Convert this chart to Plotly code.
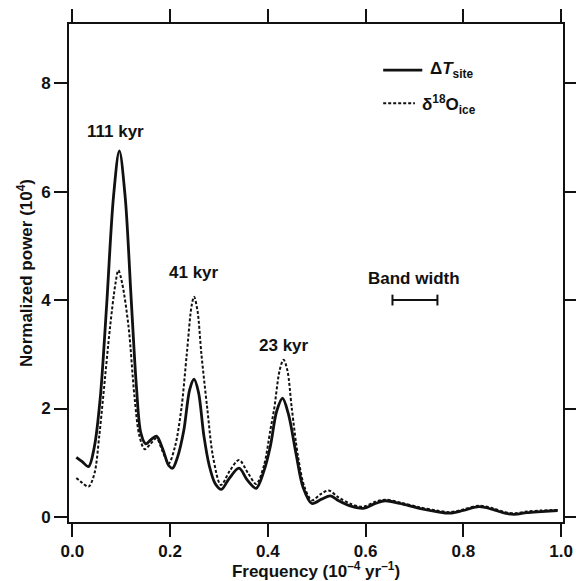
import plotly.graph_objects as go

# Frequency (10^-4 yr^-1) and normalized power (10^4) of the site temperature spectrum
freq_dt = [0.008, 0.020, 0.033, 0.045, 0.057, 0.070, 0.084, 0.096, 0.108, 0.120,
           0.131, 0.140, 0.150, 0.160, 0.172, 0.185, 0.197, 0.205, 0.215, 0.228,
           0.240, 0.249, 0.258, 0.269, 0.280, 0.292, 0.305, 0.320, 0.341, 0.358,
           0.376, 0.392, 0.405, 0.418, 0.430, 0.442, 0.458, 0.472, 0.490, 0.510,
           0.528, 0.545, 0.570, 0.595, 0.620, 0.640, 0.670, 0.710, 0.745, 0.773,
           0.800, 0.832, 0.860, 0.885, 0.904, 0.930, 0.960, 0.993]
power_dt = [1.10, 1.02, 0.93, 1.30, 2.20, 3.90, 5.90, 6.75, 5.90, 4.06,
            2.40, 1.55, 1.35, 1.42, 1.49, 1.25, 0.95, 0.90, 1.10, 1.60,
            2.35, 2.54, 2.30, 1.50, 0.95, 0.62, 0.51, 0.70, 0.90, 0.68,
            0.53, 0.85, 1.30, 1.95, 2.19, 1.90, 1.15, 0.55, 0.25, 0.33,
            0.39, 0.30, 0.20, 0.16, 0.25, 0.30, 0.25, 0.16, 0.10, 0.07,
            0.12, 0.19, 0.14, 0.07, 0.05, 0.08, 0.10, 0.12]

# Spectrum of the ice isotope record
freq_d18o = [0.008, 0.020, 0.033, 0.045, 0.055, 0.063, 0.077, 0.088, 0.094, 0.102,
             0.115, 0.127, 0.137, 0.148, 0.160, 0.172, 0.185, 0.197, 0.210, 0.223,
             0.234, 0.244, 0.249, 0.256, 0.264, 0.276, 0.288, 0.304, 0.322, 0.341,
             0.360, 0.376, 0.392, 0.405, 0.413, 0.424, 0.432, 0.440, 0.449, 0.462,
             0.475, 0.490, 0.508, 0.524, 0.545, 0.570, 0.595, 0.620, 0.640, 0.670,
             0.710, 0.745, 0.773, 0.800, 0.832, 0.860, 0.885, 0.904, 0.930, 0.960,
             0.993]
power_d18o = [0.72, 0.63, 0.56, 0.80, 1.50, 2.22, 3.50, 4.30, 4.55, 4.30,
              3.50, 2.22, 1.50, 1.25, 1.35, 1.45, 1.20, 0.99, 1.30, 2.00,
              3.00, 3.90, 4.06, 3.80, 3.00, 2.00, 1.10, 0.59, 0.85, 1.05,
              0.80, 0.61, 0.95, 1.60, 2.00, 2.70, 2.90, 2.70, 2.00, 1.10,
              0.55, 0.31, 0.42, 0.49, 0.36, 0.24, 0.19, 0.28, 0.32, 0.27,
              0.18, 0.12, 0.09, 0.14, 0.21, 0.16, 0.09, 0.07, 0.10, 0.12,
              0.13]

# Peak period labels
peak_labels = ["111 kyr", "41 kyr", "23 kyr"]
peak_label_freq = [0.088, 0.249, 0.434]
peak_label_power = [7.11, 4.50, 3.17]

# Spectral band width bar
band_start, band_end, band_level = 0.655, 0.747, 4.0

x_ticks = [0.0, 0.2, 0.4, 0.6, 0.8, 1.0]
y_ticks = [0, 2, 4, 6, 8]

FONT = "Liberation Sans, Arial, sans-serif"

fig = go.Figure()
fig.add_trace(go.Scatter(x=freq_d18o, y=power_d18o, mode="lines",
                         line=dict(color="#111", width=2, dash="3px,2px",
                                   shape="spline", smoothing=0.9),
                         showlegend=False))
fig.add_trace(go.Scatter(x=freq_dt, y=power_dt, mode="lines",
                         line=dict(color="#111", width=2.8,
                                   shape="spline", smoothing=0.9),
                         showlegend=False))

for txt, fx, py in zip(peak_labels, peak_label_freq, peak_label_power):
    fig.add_annotation(x=fx, y=py, text=txt, showarrow=False,
                       font=dict(family=FONT, size=17, color="#111", weight="bold"))

fig.add_annotation(x=0.700, y=4.39, text="Band width", showarrow=False,
                   font=dict(family=FONT, size=17, color="#111", weight="bold"))

# Band width bar with end caps
bar = dict(color="#111", width=2)
fig.add_shape(type="line", x0=band_start, x1=band_end, y0=band_level, y1=band_level,
              xref="x", yref="y", line=bar)
for bx in (band_start, band_end):
    fig.add_shape(type="line", x0=bx, x1=bx, y0=band_level - 0.1, y1=band_level + 0.1,
                  xref="x", yref="y", line=bar)

# Legend keys
fig.add_shape(type="line", x0=0.636, x1=0.716, y0=8.24, y1=8.24, xref="x", yref="y",
              line=dict(color="#111", width=2.8))
fig.add_shape(type="line", x0=0.636, x1=0.701, y0=7.63, y1=7.63, xref="x", yref="y",
              line=dict(color="#111", width=2, dash="3px,2px"))
fig.add_annotation(x=0.728, y=8.24, xanchor="left", showarrow=False,
                   text="Δ<i>T</i><sub>site</sub>",
                   font=dict(family=FONT, size=17, color="#111", weight="bold"))
fig.add_annotation(x=0.711, y=7.60, xanchor="left", showarrow=False,
                   text="δ<sup>18</sup>O<sub>ice</sub>",
                   font=dict(family=FONT, size=17, color="#111", weight="bold"))

axis_common = dict(showline=True, linecolor="#111", linewidth=2, mirror="allticks",
                   ticks="outside", ticklen=13, tickwidth=2, tickcolor="#111",
                   showgrid=False, zeroline=False, automargin=False,
                   tickfont=dict(family=FONT, size=17, color="#111", weight="bold"))

fig.update_xaxes(range=[-0.007, 1.004], tickvals=x_ticks,
                 ticktext=[f"{v:.1f}" for v in x_ticks],
                 title=dict(text="Frequency (10<sup>–4</sup> yr<sup>–1</sup>)",
                            font=dict(family=FONT, size=17, color="#111", weight="bold"),
                            standoff=6),
                 **axis_common)
fig.update_yaxes(range=[-0.092, 9.09], tickvals=y_ticks,
                 ticktext=[str(v) for v in y_ticks],
                 title=dict(text="Normalized power (10<sup>4</sup>)",
                            font=dict(family=FONT, size=17, color="#111", weight="bold"),
                            standoff=4),
                 **axis_common)

fig.update_layout(width=576, height=581,
                  margin=dict(l=69, r=13, t=24, b=59),
                  plot_bgcolor="white", paper_bgcolor="white")

fig.write_html("out.html")
